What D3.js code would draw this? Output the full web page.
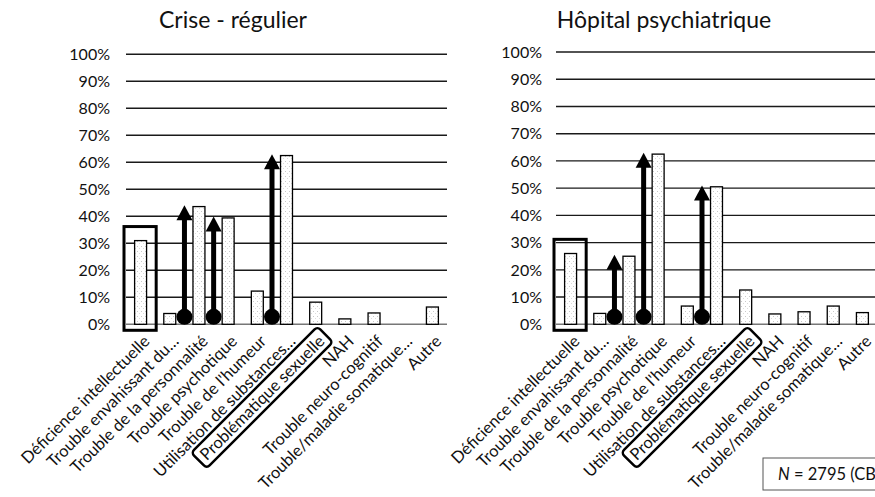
<!DOCTYPE html>
<html><head><meta charset="utf-8">
<script src="https://cdn.jsdelivr.net/npm/d3@7"></script>
<style>
html,body{margin:0;padding:0;background:#fff;}
svg{display:block;font-family:Lato,"Open Sans",sans-serif;}
</style></head>
<body><svg id="c" width="875" height="497"></svg>
<script>
// ---- data ----
const categories = ["Déficience intellectuelle","Trouble envahissant du…","Trouble de la personnalité","Trouble psychotique","Trouble de l'humeur","Utilisation de substances…","Problématique sexuelle","NAH","Trouble neuro-cognitif","Trouble/maladie somatique…","Autre"];
const valuesCrise = [31, 4, 43.6, 39.4, 12.3, 62.5, 8.2, 2, 4.2, 0, 6.4];
const valuesHopital = [26, 4, 25, 62.5, 6.7, 50.5, 12.6, 3.8, 4.6, 6.7, 4.3];
const yTicks = [0,10,20,30,40,50,60,70,80,90,100];
const titles = ["Crise - régulier","Hôpital psychiatrique"];
const arrowTargets = ["Trouble de la personnalité","Trouble psychotique","Utilisation de substances…"];
const boxedBar = "Déficience intellectuelle";
const boxedLabel = "Problématique sexuelle";
const noteText = ["N"," = 2795 (CB"];

const svg = d3.select("#c");
const defs = svg.append("defs");
const pat = defs.append("pattern").attr("id","stip").attr("width",4).attr("height",5).attr("patternUnits","userSpaceOnUse");
pat.append("rect").attr("width",4).attr("height",5).attr("fill","#fff");
pat.append("rect").attr("x",1).attr("y",1).attr("width",1).attr("height",1).attr("fill","#c8c8c8");
pat.append("rect").attr("x",3).attr("y",3).attr("width",1).attr("height",1).attr("fill","#dcdcdc");

const panels = [
  {title:titles[0], values:valuesCrise, x0:126, x1:447, y0:324.3, y1:54.3, tickX:110, titleX:233},
  {title:titles[1], values:valuesHopital, x0:556, x1:877, y0:324.3, y1:52, tickX:542, titleX:664}
];

panels.forEach(p=>{
  const g = svg.append("g");
  const x = d3.scaleBand().domain(categories).range([p.x0,p.x1]).paddingInner(0.59).paddingOuter(0.295);
  const y = d3.scaleLinear().domain([0,100]).range([p.y0,p.y1]);
  const step = x.step();

  // title
  g.append("text").attr("x",p.titleX).attr("y",28).attr("text-anchor","middle")
    .attr("font-size",23).attr("fill","#111").text(p.title);

  // grid
  g.selectAll("line.grid").data(yTicks).join("line")
    .attr("x1",p.x0).attr("x2",p.x1).attr("y1",d=>y(d)).attr("y2",d=>y(d))
    .attr("stroke",d=>d===0?"#777":"#1a1a1a").attr("stroke-width",1.4);

  // y tick labels
  g.selectAll("text.yt").data(yTicks).join("text")
    .attr("x",p.tickX).attr("y",d=>y(d)).attr("dy","0.36em").attr("text-anchor","end")
    .attr("font-size",16).attr("fill","#111").text(d=>d+"%");

  // highlight box around a bar
  const bi = categories.indexOf(boxedBar);
  const bx = x(boxedBar) - x.paddingOuter()*step; // band left edge
  g.append("rect").attr("x",bx-2).attr("y",y(p.values[bi]+5.2))
    .attr("width",step+3).attr("height",p.y0+6-y(p.values[bi]+5.2))
    .attr("fill","none").attr("stroke","#000").attr("stroke-width",3);

  // bars
  g.selectAll("rect.bar").data(categories.map((c,i)=>({c,v:p.values[i]})).filter(d=>d.v>0)).join("rect")
    .attr("x",d=>x(d.c)).attr("width",x.bandwidth())
    .attr("y",d=>y(d.v)).attr("height",d=>p.y0-y(d.v))
    .attr("fill","url(#stip)").attr("stroke","#000").attr("stroke-width",1.3);

  // arrows
  arrowTargets.forEach(t=>{
    const v = p.values[categories.indexOf(t)];
    const ax = x(t) + x.bandwidth()/2 - 14.5;
    const tip = y(v+0.5);
    const base = p.y0 - 7.5;
    g.append("line").attr("x1",ax).attr("x2",ax).attr("y1",base).attr("y2",tip+12)
      .attr("stroke","#000").attr("stroke-width",5);
    g.append("path").attr("d",`M${ax},${tip} L${ax+8},${tip+15} L${ax-8},${tip+15} Z`).attr("fill","#000");
    g.append("circle").attr("cx",ax).attr("cy",base).attr("r",8).attr("fill","#000");
  });

  // category labels
  const labs = g.selectAll("g.lab").data(categories).join("g")
    .attr("transform",d=>`translate(${x(d)+x.bandwidth()/2+10},${p.y0+18}) rotate(-45)`);
  labs.append("text").attr("text-anchor","end").attr("font-size",16.5).attr("fill","#111").text(d=>d);
  labs.filter(d=>d===boxedLabel).each(function(){
    const gg = d3.select(this);
    const bb = gg.select("text").node().getBBox();
    gg.insert("rect","text").attr("x",bb.x-5).attr("y",bb.y-1).attr("width",bb.width+10).attr("height",bb.height+2)
      .attr("rx",4).attr("fill","none").attr("stroke","#000").attr("stroke-width",2.5);
  });
});

// note box
svg.append("rect").attr("x",763).attr("y",458).attr("width",130).attr("height",32)
  .attr("fill","#fff").attr("stroke","#555").attr("stroke-width",1);
const nt = svg.append("text").attr("x",778).attr("y",480).attr("font-size",16.5).attr("fill","#111");
nt.append("tspan").attr("font-style","italic").text(noteText[0]);
nt.append("tspan").text(noteText[1]);
</script></body></html>
